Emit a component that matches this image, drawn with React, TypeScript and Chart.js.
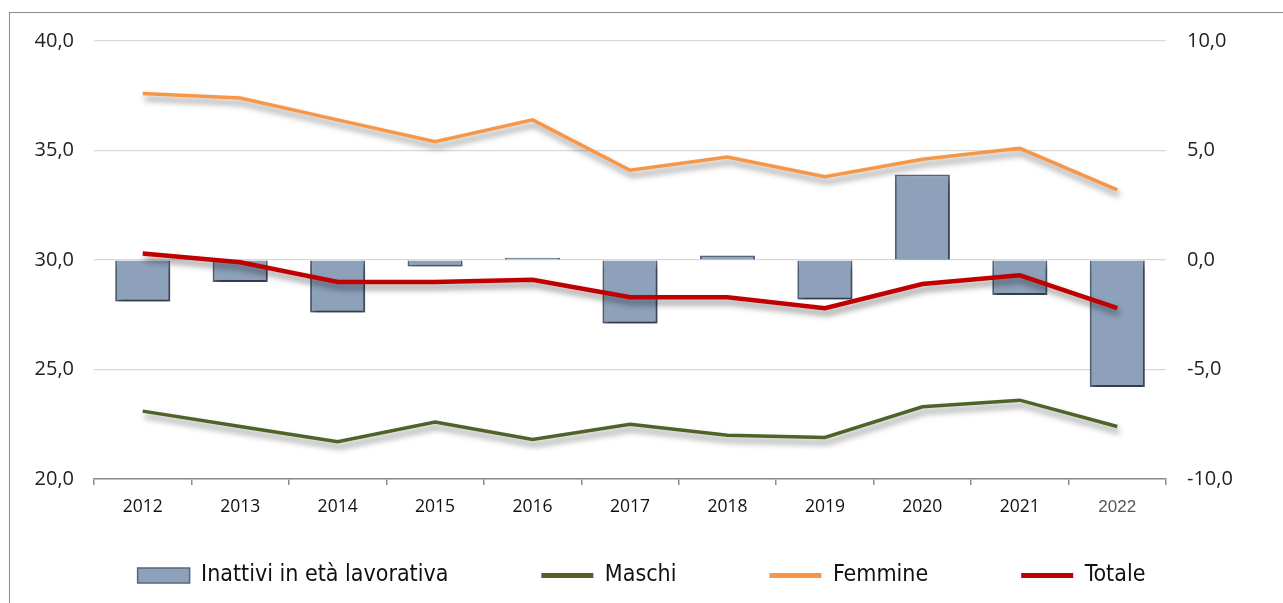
import React, { useEffect, useRef } from "react";
import { Chart, registerables } from "chart.js";

Chart.register(...registerables);

const years = ["2012", "2013", "2014", "2015", "2016", "2017", "2018", "2019", "2020", "2021", "2022"];
const inattivi = [-1.9, -1.0, -2.4, -0.3, 0.1, -2.9, 0.2, -1.8, 3.9, -1.6, -5.8];
const maschi = [23.1, 22.4, 21.7, 22.6, 21.8, 22.5, 22.0, 21.9, 23.3, 23.6, 22.4];
const femmine = [37.6, 37.4, 36.4, 35.4, 36.4, 34.1, 34.7, 33.8, 34.6, 35.1, 33.2];
const totale = [30.3, 29.9, 29.0, 29.0, 29.1, 28.3, 28.3, 27.8, 28.9, 29.3, 27.8];

const leftRange = { min: 20, max: 40, step: 5 };
const rightRange = { min: -10, max: 10, step: 5 };

const BAR_FILL = "#8EA1BB";
const BAR_BORDER = "#56667C";
const C_MASCHI = "#4F6228";
const C_FEMMINE = "#F79646";
const C_TOTALE = "#C00000";

const LEGEND_PAD = 93;
const LEGEND_ITEM_TOP = 564;

const fmt = (v: number) => v.toFixed(1).replace(".", ",");

const shadowPlugin = {
  id: "shadowPlugin",
  beforeDatasetsDraw(chart: any) {
    const c = chart.ctx;
    c.save();
    c.shadowColor = "rgba(0,0,0,0.45)";
    c.shadowBlur = 6;
    c.shadowOffsetX = 2;
    c.shadowOffsetY = 5;
  },
  afterDatasetsDraw(chart: any) {
    chart.ctx.restore();
  },
};

const legendShift = {
  id: "legendShift",
  beforeDraw(chart: any) {
    if (chart.legend) chart.legend.top = LEGEND_ITEM_TOP - LEGEND_PAD;
  },
};

export default function App() {
  const ref = useRef<HTMLCanvasElement | null>(null);

  useEffect(() => {
    if (!ref.current) return;
    const chart = new Chart(ref.current, {
      type: "bar",
      data: {
        labels: years,
        datasets: [
          {
            type: "bar",
            label: "Inattivi in età lavorativa",
            data: inattivi,
            yAxisID: "y1",
            backgroundColor: BAR_FILL,
            borderColor: BAR_BORDER,
            borderWidth: 2,
            barPercentage: 0.565,
            categoryPercentage: 1,
            order: 1,
          } as any,
          {
            type: "line",
            label: "Maschi",
            data: maschi,
            yAxisID: "y",
            borderColor: C_MASCHI,
            backgroundColor: C_MASCHI,
            borderWidth: 3.5,
            pointRadius: 0,
            tension: 0,
            order: 0,
          },
          {
            type: "line",
            label: "Femmine",
            data: femmine,
            yAxisID: "y",
            borderColor: C_FEMMINE,
            backgroundColor: C_FEMMINE,
            borderWidth: 3.5,
            pointRadius: 0,
            tension: 0,
            order: 0,
          },
          {
            type: "line",
            label: "Totale",
            data: totale,
            yAxisID: "y",
            borderColor: C_TOTALE,
            backgroundColor: C_TOTALE,
            borderWidth: 4.5,
            pointRadius: 0,
            tension: 0,
            order: 0,
          },
        ],
      },
      options: {
        responsive: false,
        maintainAspectRatio: false,
        animation: false,
        layout: { padding: { top: 41, left: 0, right: 0, bottom: 0 } },
        scales: {
          x: {
            offset: true,
            grid: {
              offset: true,
              drawOnChartArea: false,
              drawTicks: true,
              tickLength: 6,
              color: "#8c8c8c",
              lineWidth: 1.5,
            },
            border: { display: true, color: "#8c8c8c", width: 1.5 },
            ticks: {
              padding: 12,
              color: (ctx: any) => (ctx.index === 10 ? "#555555" : "#111111"),
              font: (ctx: any) =>
                ctx.index === 10
                  ? { family: "'Liberation Sans', sans-serif", size: 17 }
                  : { family: "'Open Sans', sans-serif", size: 17.5 },
            },
            afterFit: (s: any) => {
              s.height = 64;
            },
          },
          y: {
            position: "left",
            min: leftRange.min,
            max: leftRange.max,
            ticks: {
              stepSize: leftRange.step,
              callback: (v: any) => fmt(Number(v)),
              padding: 20,
              color: "#222222",
              font: { family: "'Open Sans', sans-serif", size: 20 },
            },
            grid: { color: "#d9d9d9", drawTicks: false, lineWidth: 1.2 },
            border: { display: false },
            afterFit: (s: any) => {
              s.width = 94;
            },
          },
          y1: {
            position: "right",
            min: rightRange.min,
            max: rightRange.max,
            ticks: {
              stepSize: rightRange.step,
              callback: (v: any) => fmt(Number(v)),
              padding: 21,
              color: "#222222",
              font: { family: "'Open Sans', sans-serif", size: 20 },
            },
            grid: { drawOnChartArea: false, drawTicks: false },
            border: { display: false },
            afterFit: (s: any) => {
              s.width = 117;
            },
          },
        },
        plugins: {
          tooltip: { enabled: false },
          legend: {
            position: "bottom",
            maxHeight: 60,
            labels: {
              usePointStyle: true,
              pointStyleWidth: 52,
              boxWidth: 52,
              boxHeight: 15,
              padding: LEGEND_PAD,
              color: "#111111",
              font: { family: "'DejaVu Sans Condensed', 'DejaVu Sans', sans-serif", size: 23 },
              generateLabels: (ch: any) => {
                const items = (Chart.defaults as any).plugins.legend.labels.generateLabels(ch);
                return items
                  .sort((a: any, b: any) => a.datasetIndex - b.datasetIndex)
                  .map((it: any) => {
                    const ds: any = ch.data.datasets[it.datasetIndex];
                    if (ds.type === "bar") {
                      return { ...it, pointStyle: "rect", fillStyle: BAR_FILL, strokeStyle: BAR_BORDER, lineWidth: 1.5 };
                    }
                    return { ...it, pointStyle: "line", fillStyle: ds.borderColor, strokeStyle: ds.borderColor, lineWidth: 5 };
                  });
              },
            },
          },
        },
      } as any,
      plugins: [shadowPlugin, legendShift],
    });
    return () => chart.destroy();
  }, []);

  return (
    <div style={{ position: "fixed", left: 0, top: 0, width: 1283, height: 603, background: "#fff", overflow: "hidden" }}>
      <canvas ref={ref} width={1283} height={603} style={{ display: "block", position: "absolute", left: 0, top: 0 }} />
      <div
        style={{
          position: "absolute",
          left: 9,
          top: 12,
          width: 1400,
          height: 700,
          borderLeft: "1px solid #8c8c8c",
          borderTop: "1px solid #8c8c8c",
          pointerEvents: "none",
        }}
      />
    </div>
  );
}
